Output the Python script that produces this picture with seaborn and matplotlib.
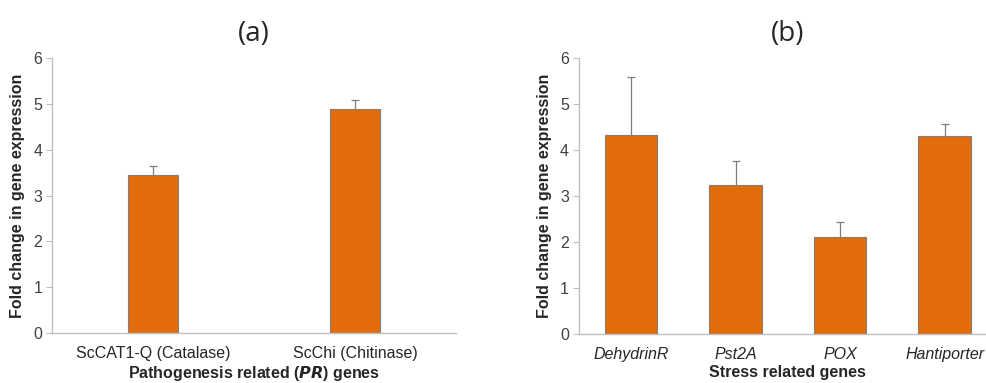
import numpy as np
import pandas as pd
import matplotlib
matplotlib.use('Agg')
import matplotlib.pyplot as plt
import seaborn as sns

sns.set_style("white")
plt.rcParams['font.family'] = ['Liberation Sans', 'DejaVu Sans']

# panel (a)
pr_genes = ["ScCAT1-Q (Catalase)", "ScChi (Chitinase)"]
pr_fold = [3.45, 4.88]
pr_err = [0.19, 0.20]

# panel (b)
stress_genes = ["DehydrinR", "Pst2A", "POX", "Hantiporter"]
stress_fold = [4.33, 3.23, 2.10, 4.31]
stress_err = [1.24, 0.53, 0.33, 0.24]

bar_color = "#E36C0A"
edge_color = "#7F7F7F"
axis_color = "#BFBFBF"
text_color = "#404040"


def draw_panel(ax, genes, fold, err, width, title, xlabel, italic_ticks):
	df = pd.DataFrame({"gene": genes, "fold": fold})
	sns.barplot(data=df, x="gene", y="fold", color=bar_color, width=width,
				edgecolor=edge_color, linewidth=0.8, saturation=1, errorbar=None, ax=ax)
	x = np.arange(len(genes))
	eb = ax.errorbar(x, fold, yerr=[np.zeros(len(err)), err], fmt='none',
					 ecolor=edge_color, elinewidth=0.9, capsize=3, capthick=0.9)
	# only the upper cap is shown
	caps = eb.lines[1]
	if len(caps) == 2:
		caps[0].set_visible(False)
	ax.set_ylim(0, 6)
	ax.set_xlim(-0.5, len(genes) - 0.5)
	ax.set_yticks(range(7))
	for side in ["top", "right"]:
		ax.spines[side].set_visible(False)
	for side in ["left", "bottom"]:
		ax.spines[side].set_color(axis_color)
		ax.spines[side].set_linewidth(1.0)
	ax.tick_params(axis='y', left=True, length=4, color=axis_color, labelsize=11.5,
				   labelcolor=text_color, pad=3)
	ax.tick_params(axis='x', bottom=False, labelsize=11.5, labelcolor="#262626", pad=6)
	if italic_ticks:
		for lab in ax.get_xticklabels():
			lab.set_style('italic')
	ax.set_ylabel("Fold change in gene expression", fontsize=11.5, fontweight='bold', labelpad=6)
	ax.set_xlabel(xlabel, fontsize=11.5, fontweight='bold', labelpad=2)
	ax.set_title(title, fontsize=20, family=['Open Sans', 'DejaVu Sans'], pad=12)


fig = plt.figure(figsize=(9.86, 3.83), dpi=100)
ax_a = fig.add_axes([0.0527, 0.1305, 0.4097, 0.718])
ax_b = fig.add_axes([0.587, 0.128, 0.424, 0.7214])

draw_panel(ax_a, pr_genes, pr_fold, pr_err, 0.25, "(a)",
		   r"Pathogenesis related ($\mathbfit{PR}$) genes", False)
draw_panel(ax_b, stress_genes, stress_fold, stress_err, 0.5, "(b)",
		   "Stress related genes", True)

fig.savefig("out.png", dpi=100)
plt.close(fig)
